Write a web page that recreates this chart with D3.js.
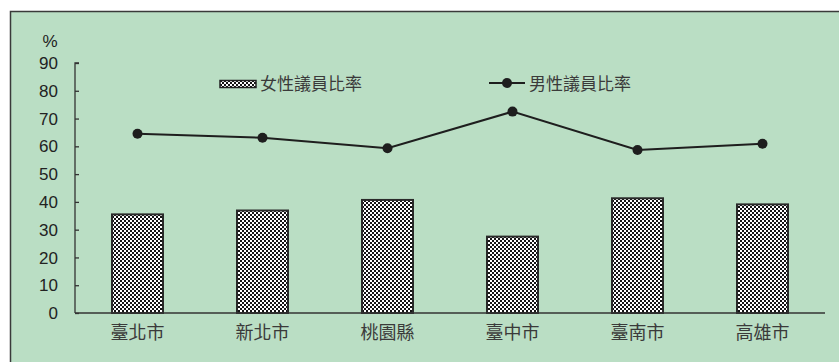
<!DOCTYPE html>
<html>
<head>
<meta charset="utf-8">
<script src="https://cdn.jsdelivr.net/npm/d3@7/dist/d3.min.js"></script>
<style>
  html, body { margin: 0; padding: 0; background: #fff; }
  svg { display: block; }
</style>
</head>
<body>
<svg id="chart" width="839" height="362"></svg>
<script>
// Council seat share by gender, six special municipalities
const cities = ["臺北市", "新北市", "桃園縣", "臺中市", "臺南市", "高雄市"];
const femaleRate = [35.5, 36.9, 40.7, 27.5, 41.3, 39.1];
const maleRate = [64.5, 63.1, 59.3, 72.5, 58.7, 60.9];
const yTicks = [0, 10, 20, 30, 40, 50, 60, 70, 80, 90];
const seriesNames = ["女性議員比率", "男性議員比率"];

const svg = d3.select("#chart");
const W = 839, H = 362;
const plot = { left: 75, right: 825, top: 63, bottom: 313 };

// panel background with frame
svg.append("rect")
  .attr("x", 10.5).attr("y", 11.5)
  .attr("width", W + 10).attr("height", H + 10)
  .attr("fill", "#badec4")
  .attr("stroke", "#3a3a3a").attr("stroke-width", 1.5);

// checkerboard fill for the bars
const defs = svg.append("defs");
const cell = 2;
const pat = defs.append("pattern")
  .attr("id", "checker")
  .attr("patternUnits", "userSpaceOnUse")
  .attr("width", cell * 2).attr("height", cell * 2);
pat.append("rect").attr("width", cell * 2).attr("height", cell * 2).attr("fill", "#ffffff");
pat.append("rect").attr("width", cell).attr("height", cell).attr("fill", "#151515");
pat.append("rect").attr("x", cell).attr("y", cell).attr("width", cell).attr("height", cell).attr("fill", "#151515");

const x = d3.scaleBand().domain(cities).range([plot.left, plot.right]).paddingInner(0.592).paddingOuter(0.296);
const y = d3.scaleLinear().domain([0, 90]).range([plot.bottom, plot.top]);

const font = "'Liberation Sans', Arial, 'Noto Sans CJK TC', sans-serif";
const cjk = "'Noto Sans CJK TC', 'Noto Sans CJK SC', sans-serif";

// y axis: inward ticks, labels placed separately on the left
const yAxis = svg.append("g").attr("transform", `translate(${plot.left},0)`)
  .call(d3.axisRight(y).tickValues(yTicks).tickSize(4).tickFormat(""));
yAxis.select(".domain").attr("stroke", "#333").attr("stroke-width", 1.3).attr("d", `M4,${plot.top}H0V${plot.bottom}`);
yAxis.selectAll(".tick line").attr("stroke", "#333").attr("stroke-width", 1.3);

svg.append("g").selectAll("text").data(yTicks).join("text")
  .attr("x", 58).attr("y", d => y(d))
  .attr("dy", "0.36em")
  .attr("text-anchor", "end")
  .attr("font-family", font).attr("font-size", 17)
  .attr("fill", "#222")
  .text(d => d);

svg.append("text")
  .attr("x", 50).attr("y", 41).attr("dy", "0.36em")
  .attr("text-anchor", "middle")
  .attr("font-family", font).attr("font-size", 17)
  .attr("fill", "#222").text("%");

// bars
svg.append("g").selectAll("rect").data(cities).join("rect")
  .attr("x", d => x(d))
  .attr("y", (d, i) => y(femaleRate[i]))
  .attr("width", x.bandwidth())
  .attr("height", (d, i) => y(0) - y(femaleRate[i]))
  .attr("fill", "url(#checker)")
  .attr("stroke", "#2a2a2a").attr("stroke-width", 2);

// x axis baseline
svg.append("line")
  .attr("x1", plot.left).attr("x2", plot.right)
  .attr("y1", plot.bottom).attr("y2", plot.bottom)
  .attr("stroke", "#333").attr("stroke-width", 1.3);

// category labels
svg.append("g").selectAll("text").data(cities).join("text")
  .attr("x", d => x(d) + x.bandwidth() / 2)
  .attr("y", 333).attr("dy", "0.36em")
  .attr("text-anchor", "middle")
  .attr("font-family", cjk).attr("font-size", 18)
  .attr("fill", "#3a3a3a")
  .text(d => d);

// male share line with markers
const cx = d => x(d) + x.bandwidth() / 2;
const line = d3.line().x((d, i) => cx(cities[i])).y(d => y(d));
svg.append("path").datum(maleRate)
  .attr("d", line)
  .attr("fill", "none").attr("stroke", "#1e1e1e").attr("stroke-width", 2);
svg.append("g").selectAll("circle").data(maleRate).join("circle")
  .attr("cx", (d, i) => cx(cities[i])).attr("cy", d => y(d))
  .attr("r", 5).attr("fill", "#1e1e1e");

// legend
const leg = svg.append("g");
leg.append("rect").attr("x", 220).attr("y", 80.5).attr("width", 36).attr("height", 7)
  .attr("fill", "url(#checker)").attr("stroke", "#222").attr("stroke-width", 1.5);
leg.append("text").attr("x", 260).attr("y", 84).attr("dy", "0.36em")
  .attr("font-family", cjk).attr("font-size", 17).attr("fill", "#3a3a3a")
  .text(seriesNames[0]);
leg.append("line").attr("x1", 489).attr("x2", 525).attr("y1", 83).attr("y2", 83)
  .attr("stroke", "#1e1e1e").attr("stroke-width", 2);
leg.append("circle").attr("cx", 507).attr("cy", 83).attr("r", 5).attr("fill", "#1e1e1e");
leg.append("text").attr("x", 529).attr("y", 84).attr("dy", "0.36em")
  .attr("font-family", cjk).attr("font-size", 17).attr("fill", "#3a3a3a")
  .text(seriesNames[1]);
</script>
</body>
</html>
